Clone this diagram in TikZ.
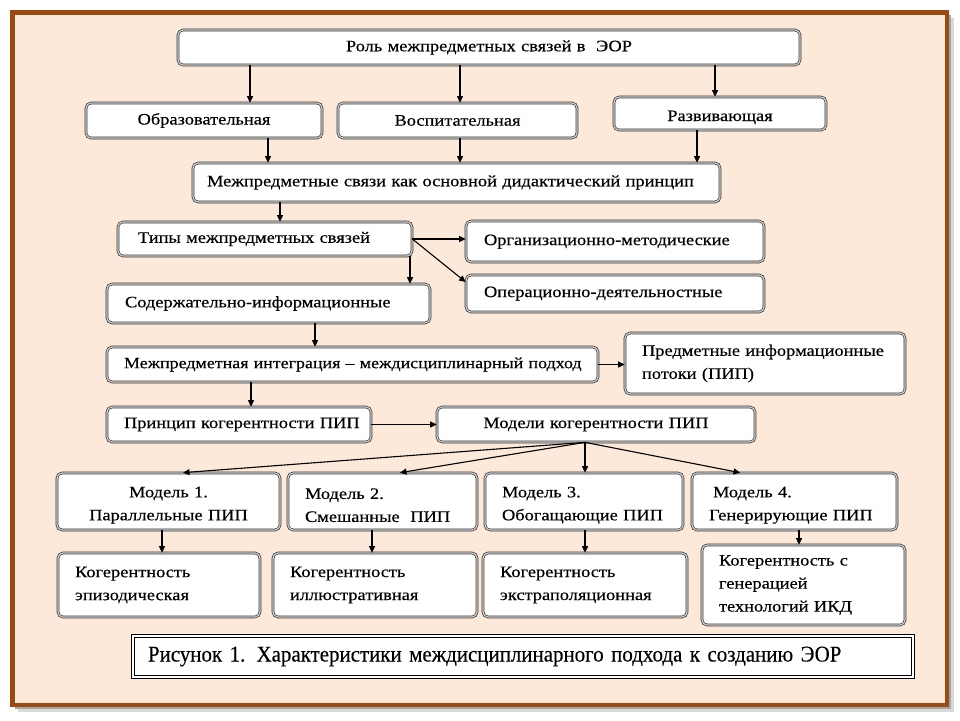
\documentclass[tikz,border=0pt]{standalone}
\usepackage{fontspec}
\setmainfont{Liberation Serif}[FakeStretch=1.15,FakeBold=0.35]
\newfontfamily\capfont{Liberation Serif}[FakeStretch=0.93,FakeBold=0.3]
\usetikzlibrary{arrows.meta,calc}
\definecolor{framebrown}{HTML}{9C4A12}
\definecolor{peach}{HTML}{FDE9D9}
\tikzset{
  bx/.style={draw=black!80, double=gray!35, double distance=1.2pt, line width=0.7pt,
    rounded corners=5pt, fill=white, font=\fontsize{16}{23}\selectfont, inner ysep=0pt},
  arr/.style={-{Triangle[length=6.5pt,width=6pt]}, line width=1.1pt, black},
}
\begin{document}
\begin{tikzpicture}[x=1pt,y=-1pt]
\useasboundingbox (0,0) rectangle (960,720);
% frame with shadow
\fill[black!15] (18,18) rectangle (954,712);
\fill[black!35] (15,15) rectangle (951,709);
\draw[framebrown, line width=4.5pt, fill=peach] (12.5,12.5) rectangle (947,705);

% row 1
\node[bx, minimum width=622pt, minimum height=35pt, text width=600pt, align=center] (rol) at (489,47.5) {\mbox{Роль межпредметных связей в\ \ ЭОР}};
\node[bx, minimum width=236pt, minimum height=35pt, text width=216pt, align=center] (obr) at (204,120.5) {\mbox{Образовательная}};
\node[bx, minimum width=239pt, minimum height=35pt, text width=219pt, align=center] (vos) at (457.5,120.5) {\mbox{Воспитательная}};
\node[bx, minimum width=212pt, minimum height=33pt, text width=192pt, align=center] (raz) at (720,113.5) {\raisebox{-4pt}[10pt][3pt]{Развивающая}};
% row 2
\node[bx, minimum width=527pt, minimum height=39pt, text width=499pt, inner xsep=14pt, align=left] (mdp) at (456.5,182.5) {\mbox{Межпредметные связи как основной дидактический принцип}};
\node[bx, minimum width=294pt, minimum height=34pt, text width=254pt, inner xsep=20pt, align=left] (tip) at (265,239) {\mbox{Типы межпредметных связей}};
\node[bx, minimum width=298pt, minimum height=41pt, text width=262pt, inner xsep=18pt, align=left] (org) at (615,241.5) {\mbox{Организационно-методические}};
\node[bx, minimum width=298pt, minimum height=37pt, text width=262pt, inner xsep=18pt, align=left] (ope) at (615,293.5) {\mbox{Операционно-деятельностные}};
\node[bx, minimum width=323pt, minimum height=39pt, text width=287pt, inner xsep=18pt, align=left] (sod) at (268.5,303.5) {\mbox{Содержательно-информационные}};
\node[bx, minimum width=491pt, minimum height=35pt, text width=457pt, inner xsep=17pt, align=left, font=\fontsize{15.6}{23}\selectfont] (int) at (352.5,364.5) {\mbox{Межпредметная интеграция -- междисциплинарный подход}};
\node[bx, minimum width=280pt, minimum height=61pt, text width=246pt, inner xsep=17pt, align=left] (pip) at (765,363.5) {\mbox{Предметные информационные}\\\mbox{потоки (ПИП)}};
\node[bx, minimum width=264pt, minimum height=35pt, text width=230pt, inner xsep=17pt, align=left] (pri) at (239,424.5) {\mbox{Принцип когерентности ПИП}};
\node[bx, minimum width=318pt, minimum height=35pt, text width=298pt, align=center] (mod) at (596,424.5) {\mbox{Модели когерентности ПИП}};
% models
\node[bx, minimum width=223pt, minimum height=57pt, text width=203pt, align=center] (m1) at (168.5,501.5) {\rule{0pt}{18pt}\mbox{Модель 1.}\\\mbox{Параллельные ПИП}};
\node[bx, minimum width=189pt, minimum height=57pt, text width=155pt, inner xsep=17pt, align=left] (m2) at (382.5,501.5) {\rule{0pt}{18pt}\mbox{Модель 2.}\\\mbox{Смешанные\ \ ПИП}};
\node[bx, minimum width=198pt, minimum height=57pt, text width=164pt, inner xsep=17pt, align=left] (m3) at (584,501.5) {\rule{0pt}{18pt}\mbox{Модель 3.}\\\mbox{Обогащающие ПИП}};
\node[bx, minimum width=205pt, minimum height=57pt, text width=171pt, inner xsep=17pt, align=left] (m4) at (794.5,501.5) {\rule{0pt}{18pt}\hspace*{4pt}\mbox{Модель 4.}\\\mbox{Генерирующие ПИП}};
% coherence
\node[bx, minimum width=202pt, minimum height=64pt, text width=168pt, inner xsep=17pt, align=left] (k1) at (159,585) {\mbox{Когерентность}\\\mbox{эпизодическая}};
\node[bx, minimum width=204pt, minimum height=64pt, text width=170pt, inner xsep=17pt, align=left] (k2) at (375,585) {\mbox{Когерентность}\\\mbox{иллюстративная}};
\node[bx, minimum width=204pt, minimum height=64pt, text width=170pt, inner xsep=17pt, align=left] (k3) at (585,585) {\mbox{Когерентность}\\\mbox{экстраполяционная}};
\node[bx, minimum width=203pt, minimum height=80pt, text width=169pt, inner xsep=17pt, align=left] (k4) at (803.5,585) {\mbox{Когерентность с}\\\mbox{генерацией}\\\mbox{технологий ИКД}};
% caption
\node[draw=black, double=white, double distance=1.6pt, line width=0.8pt, fill=white,
  minimum width=780pt, minimum height=41pt, text width=750pt, inner xsep=15pt, align=left,
  font=\capfont\fontsize{22.5}{24}\selectfont] (cap) at (523,656.5)
  {\mbox{Рисунок 1. Характеристики междисциплинарного подхода к созданию ЭОР}};

% x positions
\coordinate (x250) at (250,0);
\coordinate (x460) at (460,0);
\coordinate (x715) at (715,0);
\coordinate (x268) at (268,0);
\coordinate (x697) at (697,0);
\coordinate (x280) at (280,0);
\coordinate (x410) at (410,0);
\coordinate (x315) at (315,0);
\coordinate (x251) at (251,0);
\coordinate (x585) at (585,0);
\coordinate (x183) at (183,0);
\coordinate (x400) at (400,0);
\coordinate (x740) at (740,0);
\coordinate (x162) at (162,0);
\coordinate (x372) at (372,0);
\coordinate (x799) at (799,0);

\draw[arr] (rol.south -| x250) -- (obr.north -| x250);
\draw[arr] (rol.south -| x460) -- (vos.north -| x460);
\draw[arr] (rol.south -| x715) -- (raz.north -| x715);
\draw[arr] (obr.south -| x268) -- (mdp.north -| x268);
\draw[arr] (vos.south -| x460) -- (mdp.north -| x460);
\draw[arr] (raz.south -| x697) -- (mdp.north -| x697);
\draw[arr] (mdp.south -| x280) -- (tip.north -| x280);
\draw[arr] (tip.south -| x410) -- (sod.north -| x410);
\draw[arr] (tip.east) -- (org.west |- tip.east);
\draw[arr] (tip.east) -- ([yshift=11.5pt]ope.west);
\draw[arr] (sod.south -| x315) -- (int.north -| x315);
\draw[arr] (int.east) -- (pip.west |- int.east);
\draw[arr] (int.south -| x251) -- (pri.north -| x251);
\draw[arr] (pri.east) -- (mod.west |- pri.east);
\coordinate (mb) at (mod.south -| x585);
\draw[arr] (mb) -- (m1.north -| x183);
\draw[arr] (mb) -- (m2.north -| x400);
\draw[arr] (mb) -- (m3.north -| x585);
\draw[arr] (mb) -- (m4.north -| x740);
\draw[arr] (m1.south -| x162) -- (k1.north -| x162);
\draw[arr] (m2.south -| x372) -- (k2.north -| x372);
\draw[arr] (m3.south -| x585) -- (k3.north -| x585);
\draw[arr] (m4.south -| x799) -- (k4.north -| x799);
\end{tikzpicture}
\end{document}
